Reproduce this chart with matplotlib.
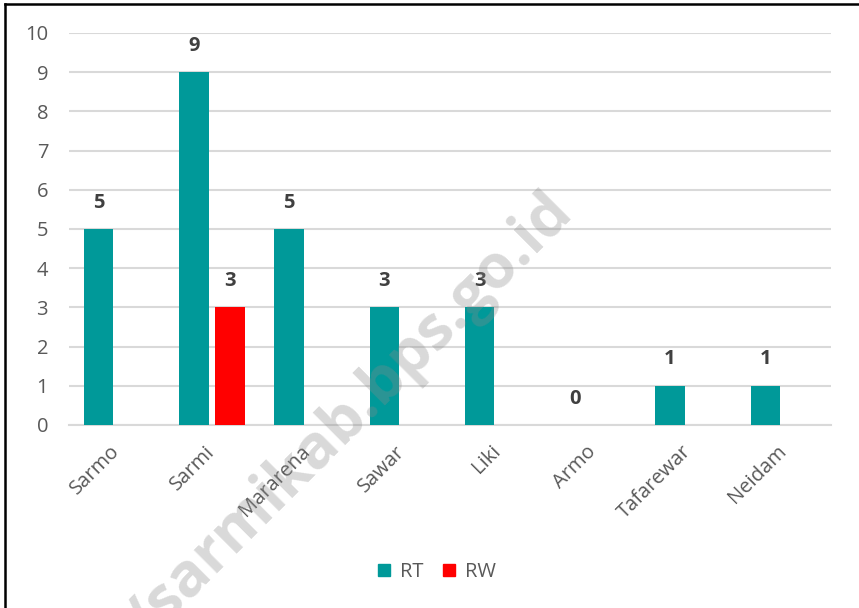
import numpy as np
import matplotlib as mpl, matplotlib.pyplot as plt
from matplotlib.lines import Line2D
from matplotlib.patches import Patch

mpl.rcParams.update({"font.family": ["Open Sans", "DejaVu Sans"], "font.size": 14})

villages = ["Sarmo", "Sarmi", "Mararena", "Sawar", "Liki", "Armo", "Tafarewar", "Neidam"]
rt = [5, 9, 5, 3, 3, 0, 1, 1]
rw = [None, 3, None, None, None, None, None, None]

teal = "#009999"
red = "#FF0000"
grey_txt = "#595959"

fig = plt.figure(figsize=(8.59, 6.08), dpi=100)
ax = fig.add_axes([69/859, 1-425/608, (831-69)/859, (425-33)/608])

x = np.arange(len(villages))
w = 0.31
off = 0.19
for i in x:
    ax.bar(i - off, rt[i], width=w, color=teal, zorder=3)
    ax.text(i - off, rt[i] + 0.42, str(rt[i]), ha="center", va="bottom",
            fontsize=14.5, fontweight="bold", color="#404040")
    if rw[i] is not None:
        ax.bar(i + off, rw[i], width=w, color=red, zorder=3)
        ax.text(i + off, rw[i] + 0.42, str(rw[i]), ha="center", va="bottom",
                fontsize=14.5, fontweight="bold", color="#404040")

ax.set_xlim(-0.5, len(villages) - 0.5)
ax.set_ylim(0, 10)
ax.set_yticks(range(0, 11))
ax.yaxis.grid(True, color="#d9d9d9", linewidth=1.5, zorder=0)
ax.set_axisbelow(True)
for s in ["top", "right", "left"]:
    ax.spines[s].set_visible(False)
ax.spines["bottom"].set_color("#d9d9d9")
ax.spines["bottom"].set_linewidth(1.5)
ax.tick_params(axis="both", length=0, colors=grey_txt)
ax.tick_params(axis="y", pad=15, labelsize=14.5)
ax.set_xticks(x)
ax.set_xticklabels(villages, rotation=45, ha="right", va="center", rotation_mode="anchor")
ax.tick_params(axis="x", pad=17, labelsize=14.5)

handles = [Patch(color=teal, label="RT"), Patch(color=red, label="RW")]
fig.legend(handles=handles, loc="center", bbox_to_anchor=(437/859, 1-572/608), ncol=2,
           frameon=False, fontsize=14.5, handlelength=0.6, handleheight=0.6,
           handletextpad=0.5, columnspacing=1.0, labelcolor=grey_txt)

# watermark
fig.text(574/859, 1-212/608, "https://sarmikab.bps.go.id", fontsize=44, fontweight="bold",
         color="#8a8a8a", alpha=0.32, rotation=45, rotation_mode="anchor",
         ha="right", va="baseline", zorder=10)

# border
fig.add_artist(Line2D([5/859, 1], [1-4/608, 1-4/608], color="black", linewidth=1.8))
fig.add_artist(Line2D([5/859, 5/859], [0, 1-4/608], color="black", linewidth=1.8))

fig.savefig("out.png", dpi=100)
